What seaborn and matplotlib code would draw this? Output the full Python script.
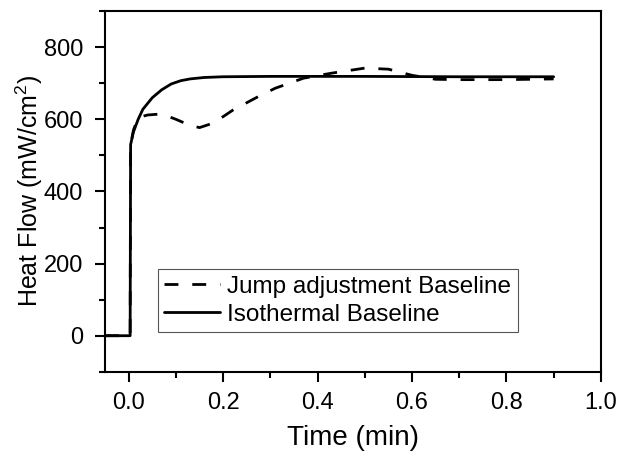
import matplotlib
matplotlib.use("Agg")
import matplotlib.pyplot as plt
import seaborn as sns
import pandas as pd
from matplotlib.ticker import MultipleLocator

sns.set_style("ticks")
plt.rcParams['font.family'] = ['Liberation Sans', 'DejaVu Sans']
plt.rcParams['mathtext.fontset'] = 'custom'
plt.rcParams['mathtext.rm'] = 'Liberation Sans'
plt.rcParams['text.color'] = 'black'
plt.rcParams['axes.labelcolor'] = 'black'
plt.rcParams['xtick.color'] = 'black'
plt.rcParams['ytick.color'] = 'black'

jump_x = [-0.05, 0.003, 0.004, 0.01, 0.02, 0.04, 0.07, 0.10, 0.13, 0.15, 0.18, 0.22,
          0.27, 0.31, 0.37, 0.43, 0.50, 0.55, 0.60, 0.65, 0.70, 0.80, 0.90]
jump_y = [0, 0, 530, 570, 605, 612, 615, 600, 583, 577, 590, 625,
          660, 686, 714, 728, 742, 739, 722, 711, 710, 710, 712]

iso_x = [-0.05, 0.003, 0.004, 0.01, 0.02, 0.03, 0.05, 0.07, 0.09, 0.11, 0.13, 0.16,
         0.20, 0.30, 0.50, 0.70, 0.90]
iso_y = [0, 0, 530, 565, 600, 628, 660, 682, 698, 707, 712, 716,
         718, 719, 719, 718, 718]

labels = ["Jump adjustment Baseline", "Isothermal Baseline"]

df = pd.concat([
    pd.DataFrame({"t": jump_x, "hf": jump_y, "s": labels[0]}),
    pd.DataFrame({"t": iso_x, "hf": iso_y, "s": labels[1]}),
])

fig = plt.figure(figsize=(6.22, 4.63), dpi=100)
ax = fig.add_axes([0.169, 0.197, 0.797, 0.779])

sns.lineplot(data=df, x="t", y="hf", hue="s", style="s",
             palette={labels[0]: "black", labels[1]: "black"},
             dashes={labels[0]: (5, 5), labels[1]: ""},
             estimator=None, sort=False, lw=2.0, ax=ax, legend=True)

ax.set_xlim(-0.05, 1.0)
ax.set_ylim(-100, 900)
ax.xaxis.set_major_locator(MultipleLocator(0.2))
ax.xaxis.set_minor_locator(MultipleLocator(0.1))
ax.yaxis.set_major_locator(MultipleLocator(200))
ax.yaxis.set_minor_locator(MultipleLocator(100))
ax.set_yticks([0, 200, 400, 600, 800])
ax.set_xticklabels([f"{v:.1f}" for v in ax.get_xticks()])
ax.tick_params(which="major", direction="out", length=7.5, width=1.5, labelsize=17)
ax.tick_params(axis="x", which="major", pad=7)
ax.tick_params(axis="y", which="major", pad=8.5)
ax.tick_params(which="minor", direction="out", length=4, width=1.5)
ax.tick_params(top=False, right=False)
for sp in ax.spines.values():
    sp.set_visible(True)
    sp.set_linewidth(1.5)
    sp.set_color("black")

ax.set_xlabel("Time (min)", fontsize=20, labelpad=8)
ax.set_ylabel("Heat Flow (mW/cm$^2$)", fontsize=18, labelpad=-1)

leg = ax.legend(loc="lower left", bbox_to_anchor=(0.107, 0.111), fontsize=17.5,
                frameon=True, fancybox=False, handlelength=2.3, handletextpad=0.3,
                borderpad=0.25, labelspacing=0.25, borderaxespad=0)
leg.get_frame().set_edgecolor("#555555")
leg.get_frame().set_linewidth(0.8)
leg.get_frame().set_alpha(1)

fig.savefig("out.png", dpi=100)
